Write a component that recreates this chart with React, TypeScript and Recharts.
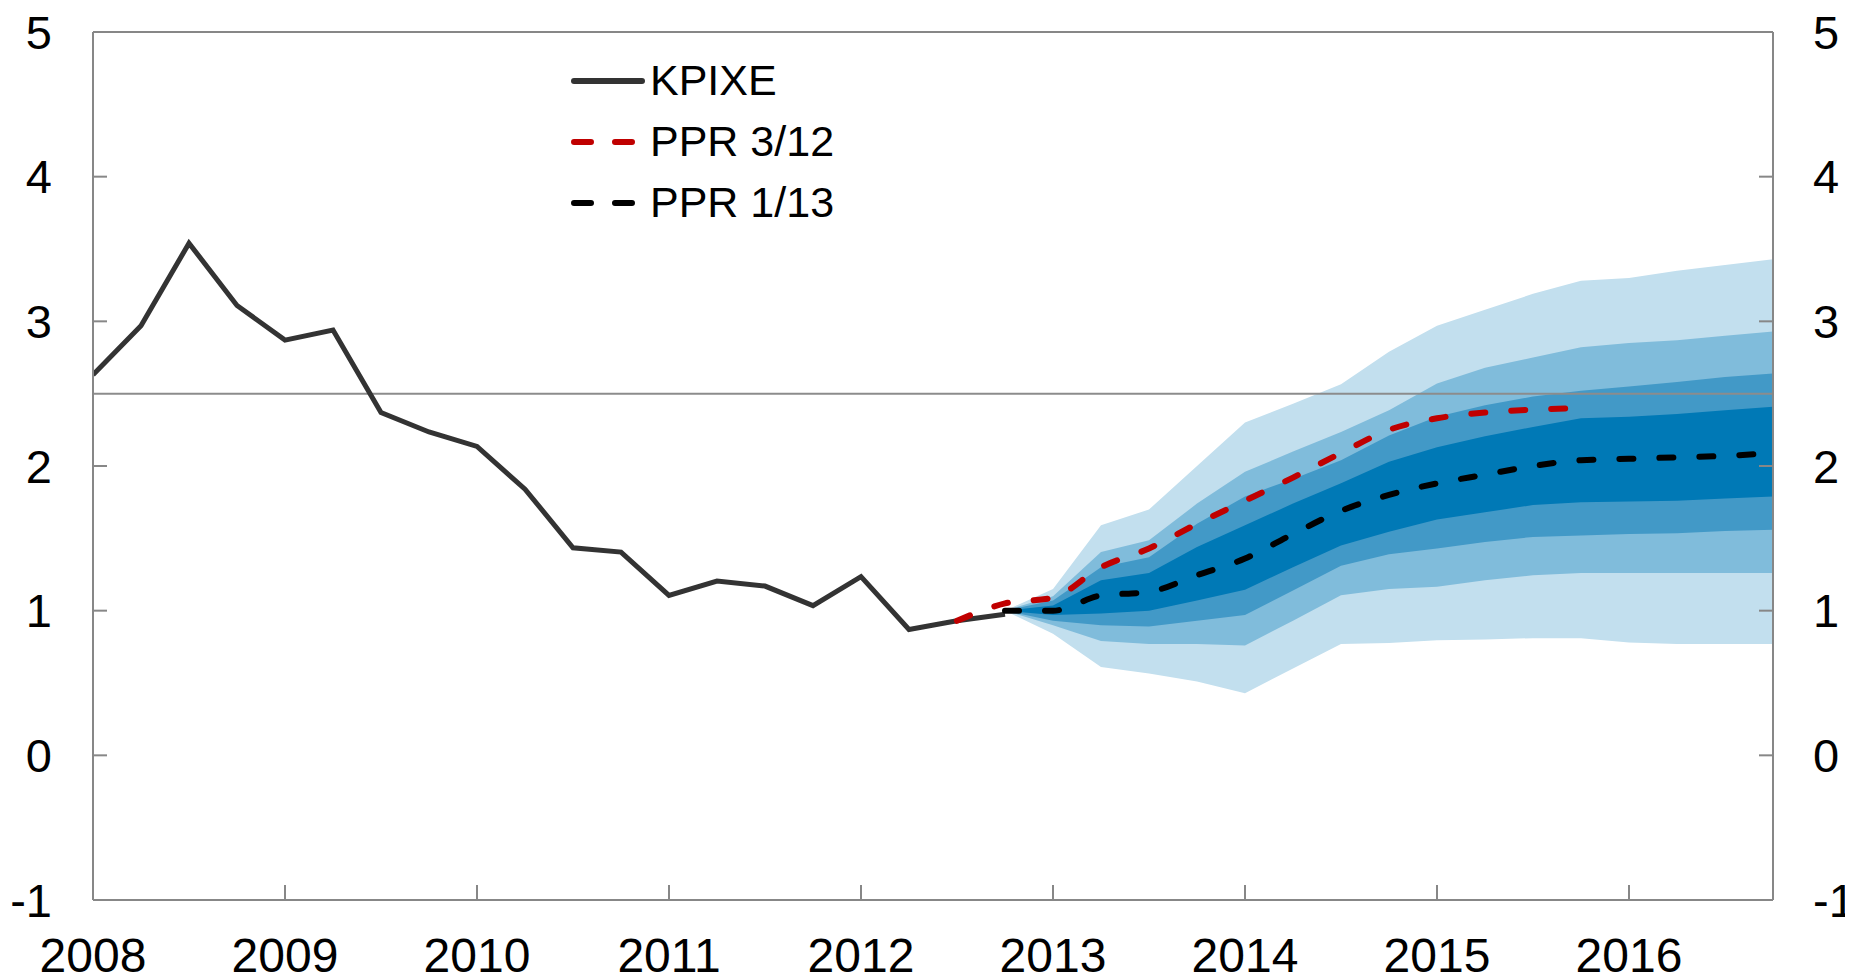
import {
  Area,
  ComposedChart,
  Legend,
  Line,
  ReferenceLine,
  XAxis,
  YAxis,
} from "recharts";

const years = [2008, 2009, 2010, 2011, 2012, 2013, 2014, 2015, 2016];
const yTicks = [-1, 0, 1, 2, 3, 4, 5];

// quarterly, 2008 Q1 - 2012 Q4
const kpixe = [
  2.63, 2.97, 3.54, 3.11, 2.87, 2.94, 2.37, 2.235, 2.135, 1.84, 1.435, 1.405,
  1.105, 1.205, 1.17, 1.035, 1.235, 0.87, 0.93, 0.975,
];

// 2012 Q3 - 2015 Q4
const ppr312 = [
  0.93, 1.05, 1.09, 1.3, 1.43, 1.6, 1.76, 1.92, 2.09, 2.25, 2.33, 2.37, 2.39,
  2.4,
];

// 2012 Q4 - 2016 Q4
const ppr113 = [
  1.0, 1.0, 1.105, 1.13, 1.245, 1.36, 1.53, 1.69, 1.8, 1.88, 1.94, 2.0, 2.04,
  2.05, 2.06, 2.07, 2.09,
];

// fan bands, 2012 Q4 - 2016 Q4
const band90Low = [
  1.0, 0.84, 0.61, 0.565, 0.51, 0.43, 0.6, 0.77, 0.776, 0.795, 0.8, 0.81, 0.81,
  0.78, 0.77, 0.77, 0.77,
];
const band70Low = [
  1.0, 0.9, 0.79, 0.77, 0.77, 0.76, 0.93, 1.106, 1.15, 1.165, 1.21, 1.245,
  1.26, 1.26, 1.26, 1.26, 1.26,
];
const band50Low = [
  1.0, 0.93, 0.9, 0.89, 0.93, 0.97, 1.14, 1.31, 1.39, 1.43, 1.475, 1.51, 1.52,
  1.53, 1.535, 1.55, 1.56,
];
const band30Low = [
  1.0, 0.97, 0.98, 1.0, 1.07, 1.145, 1.3, 1.45, 1.545, 1.63, 1.68, 1.73, 1.75,
  1.755, 1.76, 1.775, 1.79,
];
const band30High = [
  1.0, 1.035, 1.21, 1.26, 1.44, 1.59, 1.74, 1.88, 2.03, 2.13, 2.205, 2.27,
  2.33, 2.34, 2.36, 2.385, 2.41,
];
const band50High = [
  1.0, 1.07, 1.3, 1.37, 1.6, 1.79, 1.91, 2.04, 2.21, 2.34, 2.42, 2.48, 2.52,
  2.55, 2.58, 2.615, 2.64,
];
const band70High = [
  1.0, 1.1, 1.405, 1.486, 1.74, 1.96, 2.1, 2.235, 2.385, 2.57, 2.68, 2.75,
  2.82, 2.85, 2.87, 2.9, 2.93,
];
const band90High = [
  1.0, 1.15, 1.59, 1.7, 2.0, 2.3, 2.43, 2.565, 2.79, 2.97, 3.08, 3.19, 3.28,
  3.3, 3.35, 3.39, 3.43,
];

const QUARTERS = 36;
const PPR312_START = 18;
const FAN_START = 19;

const data = Array.from({ length: QUARTERS }, (_, i) => {
  const f = i - FAN_START;
  const r = i - PPR312_START;
  const fan = f >= 0;
  return {
    t: 2008 + i / 4,
    kpixe: i < kpixe.length ? kpixe[i] : null,
    ppr312: r >= 0 && r < ppr312.length ? ppr312[r] : null,
    ppr113: fan ? ppr113[f] : null,
    b90: fan ? [band90Low[f], band90High[f]] : null,
    b70: fan ? [band70Low[f], band70High[f]] : null,
    b50: fan ? [band50Low[f], band50High[f]] : null,
    b30: fan ? [band30Low[f], band30High[f]] : null,
  };
});

const FONT = "'Liberation Sans', Arial, sans-serif";
const AXIS = "#878787";

const legendItems = [
  { label: "KPIXE", color: "#333333", dash: undefined },
  { label: "PPR 3/12", color: "#c00000", dash: "17 24" },
  { label: "PPR 1/13", color: "#000000", dash: "17 24" },
];

function FanLegend() {
  return (
    <div style={{ fontFamily: FONT, fontSize: 43, color: "#000" }}>
      {legendItems.map((it) => (
        <div
          key={it.label}
          style={{ display: "flex", alignItems: "center", height: 61 }}
        >
          <svg width={74} height={10} style={{ marginRight: 5 }}>
            <line
              x1={3}
              x2={71}
              y1={5}
              y2={5}
              stroke={it.color}
              strokeWidth={6}
              strokeLinecap="round"
              strokeDasharray={it.dash}
            />
          </svg>
          <span style={{ lineHeight: 1 }}>{it.label}</span>
        </div>
      ))}
    </div>
  );
}

export default function App() {
  const xTick = { fill: "#000", fontSize: 48, fontFamily: FONT };
  const yTick = { fill: "#000", fontSize: 47, fontFamily: FONT };
  return (
    <ComposedChart
      width={1837}
      height={969}
      data={data}
      margin={{ top: 24, right: 0, left: 0, bottom: 0 }}
    >
      <XAxis
        dataKey="t"
        type="number"
        domain={[2008, 2016.75]}
        ticks={years}
        interval={0}
        allowDataOverflow
        height={77}
        tickSize={-15}
        tickMargin={53}
        tick={xTick}
        stroke={AXIS}
        strokeWidth={2}
      />
      <YAxis
        yAxisId="left"
        domain={[-1, 5]}
        ticks={yTicks}
        interval={0}
        allowDataOverflow
        width={85}
        tickSize={-14}
        tickMargin={55}
        tick={yTick}
        stroke={AXIS}
        strokeWidth={2}
      />
      <YAxis
        yAxisId="right"
        orientation="right"
        domain={[-1, 5]}
        ticks={yTicks}
        interval={0}
        allowDataOverflow
        width={72}
        tickSize={-14}
        tickMargin={54}
        tick={yTick}
        stroke={AXIS}
        strokeWidth={2}
      />
      <Area
        yAxisId="left"
        dataKey="b90"
        type="linear"
        stroke="none"
        fill="#c2dfee"
        fillOpacity={1}
        isAnimationActive={false}
      />
      <Area
        yAxisId="left"
        dataKey="b70"
        type="linear"
        stroke="none"
        fill="#80bcdb"
        fillOpacity={1}
        isAnimationActive={false}
      />
      <Area
        yAxisId="left"
        dataKey="b50"
        type="linear"
        stroke="none"
        fill="#4299c7"
        fillOpacity={1}
        isAnimationActive={false}
      />
      <Area
        yAxisId="left"
        dataKey="b30"
        type="linear"
        stroke="none"
        fill="#0079b6"
        fillOpacity={1}
        isAnimationActive={false}
      />
      <ReferenceLine yAxisId="left" y={5} stroke={AXIS} strokeWidth={2} />
      <ReferenceLine yAxisId="left" y={2.5} stroke="#8c8c8c" strokeWidth={2} />
      <Line
        yAxisId="left"
        dataKey="kpixe"
        type="linear"
        stroke="#333333"
        strokeWidth={5}
        dot={false}
        isAnimationActive={false}
      />
      <Line
        yAxisId="left"
        dataKey="ppr312"
        type="monotone"
        stroke="#c00000"
        strokeWidth={6}
        strokeDasharray="14 26"
        strokeLinecap="round"
        dot={false}
        isAnimationActive={false}
      />
      <Line
        yAxisId="left"
        dataKey="ppr113"
        type="monotone"
        stroke="#000000"
        strokeWidth={6}
        strokeDasharray="14 26"
        strokeLinecap="round"
        dot={false}
        isAnimationActive={false}
      />
      <Legend
        layout="vertical"
        align="center"
        verticalAlign="middle"
        content={() => <FanLegend />}
        wrapperStyle={{ top: 42, left: 563, width: 320 }}
      />
    </ComposedChart>
  );
}
